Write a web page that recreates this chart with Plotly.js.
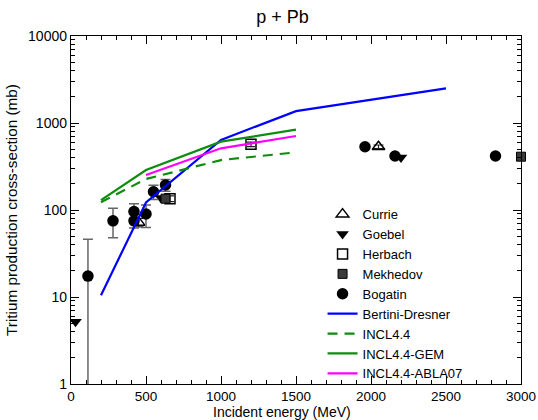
<!DOCTYPE html>
<html>
<head>
<meta charset="utf-8">
<script src="https://cdn.plot.ly/plotly-3.0.1.min.js"></script>
<style>
  html, body { margin: 0; padding: 0; background: #fff; }
  #chart { width: 538px; height: 420px; }
</style>
</head>
<body>
<div id="chart"></div>
<script>
// Tritium production cross-section for p + Pb (mb) vs incident proton energy (MeV)

// Model calculations
const bertiniE = [200, 500, 1000, 1500, 2500];
const bertiniS = [10.5, 122, 640, 1370, 2500];

const incl44E = [200, 500, 1000, 1500];
const incl44S = [123, 227, 375, 460];

const gemE = [200, 500, 1000, 1500];
const gemS = [130, 288, 610, 840];

const ablaE = [500, 1000, 1500];
const ablaS = [253, 512, 709];

// Measurements
const currieE = [450, 2050];
const currieS = [72, 534];
const currieErr = [8, 25];

const goebelE = [30, 600, 2200];
const goebelS = [5.2, 137, 400];

const herbachE = [660, 1200];
const herbachS = [135, 569];
const herbachErr = [10, 35];

const mekhedovE = [630, 3000];
const mekhedovS = [135, 410];

const bogatinE = [113, 280, 420, 420, 500, 550, 630, 1960, 2160, 2830];
const bogatinS = [17.4, 75, 96, 75, 90, 162, 194, 534, 418, 418];
const bogatinErrPlus = [28.6, 30, 22, 15, 24, 30, 30, 0, 0, 0];
const bogatinErrMinus = [17, 27, 20, 13, 27, 30, 30, 0, 0, 0];

const xTitle = 'Incident energy (MeV)';
const yTitle = 'Tritium production cross-section (mb)';

const GREEN = '#0d8c0d';

const traces = [
  {
    name: 'Currie', x: currieE, y: currieS, type: 'scatter', mode: 'markers',
    marker: { symbol: 'triangle-up-open', size: 11, color: '#000', line: { width: 1.5, color: '#000' } },
    error_y: { type: 'data', array: currieErr, color: '#222', thickness: 1.2, width: 5 }
  },
  {
    name: 'Goebel', x: goebelE, y: goebelS, type: 'scatter', mode: 'markers',
    marker: { symbol: 'triangle-down', size: 11, color: '#000' }
  },
  {
    name: 'Herbach', x: herbachE, y: herbachS, type: 'scatter', mode: 'markers',
    marker: { symbol: 'square-open', size: 10, color: '#000', line: { width: 1.5, color: '#000' } },
    error_y: { type: 'data', array: herbachErr, color: '#222', thickness: 1.2, width: 4 }
  },
  {
    name: 'Mekhedov', x: mekhedovE, y: mekhedovS, type: 'scatter', mode: 'markers',
    cliponaxis: false,
    marker: { symbol: 'square', size: 9, color: '#3a3a3a', line: { width: 1, color: '#000' } }
  },
  {
    name: 'Bogatin', x: bogatinE, y: bogatinS, type: 'scatter', mode: 'markers',
    marker: { symbol: 'circle', size: 11.5, color: '#000' },
    error_y: { type: 'data', symmetric: false, array: bogatinErrPlus, arrayminus: bogatinErrMinus,
               color: '#666', thickness: 1.5, width: 5 }
  },
  {
    name: 'Bertini-Dresner', x: bertiniE, y: bertiniS, type: 'scatter', mode: 'lines',
    line: { color: '#0000ff', width: 2.2 }
  },
  {
    name: 'INCL4.4', x: incl44E, y: incl44S, type: 'scatter', mode: 'lines',
    line: { color: GREEN, width: 2.2, dash: '10px,7px' }
  },
  {
    name: 'INCL4.4-GEM', x: gemE, y: gemS, type: 'scatter', mode: 'lines',
    line: { color: GREEN, width: 2.2 }
  },
  {
    name: 'INCL4.4-ABLA07', x: ablaE, y: ablaS, type: 'scatter', mode: 'lines',
    line: { color: '#ff00ff', width: 2.2 }
  }
];

const FONT = 'Liberation Sans, Arial, sans-serif';

const layout = {
  width: 538, height: 420,
  margin: { l: 71, r: 17, t: 36, b: 36 },
  paper_bgcolor: '#fff', plot_bgcolor: '#fff',
  font: { family: FONT, color: '#000', size: 14 },
  title: { text: 'p + Pb', font: { size: 18, family: FONT }, x: 0.525, xanchor: 'center', y: 0.975, yanchor: 'top' },
  showlegend: true,
  legend: {
    x: 0.559, xanchor: 'left', y: 0.531, yanchor: 'top',
    bgcolor: 'rgba(0,0,0,0)', borderwidth: 0,
    font: { size: 13, family: FONT },
    traceorder: 'normal'
  },
  // x-axis caption placed as paper text, centred under the left part of the frame
  annotations: [
    {
      text: xTitle, xref: 'paper', yref: 'paper', x: 0.469, y: -0.081,
      xanchor: 'center', yanchor: 'middle', showarrow: false,
      font: { size: 14, family: FONT, color: '#000' }
    }
  ],
  xaxis: {
    range: [0, 3000], tickvals: [0, 500, 1000, 1500, 2000, 2500, 3000],
    ticks: 'inside', ticklen: 8, tickwidth: 1, tickcolor: '#000',
    minor: { dtick: 100, ticks: 'inside', ticklen: 4, tickwidth: 1, tickcolor: '#000' },
    showline: true, linecolor: '#000', linewidth: 1.2, mirror: 'ticks',
    showgrid: false, zeroline: false,
    tickfont: { size: 13.5 }
  },
  yaxis: {
    type: 'log', range: [0, 4], dtick: 1,
    tickvals: [1, 10, 100, 1000, 10000], ticktext: ['1', '10', '100', '1000', '10000'],
    ticks: 'inside', ticklen: 8, tickwidth: 1, tickcolor: '#000',
    minor: { dtick: 'D1', ticks: 'inside', ticklen: 4, tickwidth: 1, tickcolor: '#000' },
    showline: true, linecolor: '#000', linewidth: 1.2, mirror: 'ticks',
    showgrid: false, zeroline: false,
    tickfont: { size: 14 },
    title: { text: yTitle, font: { size: 15.3 }, standoff: 6 }
  }
};

Plotly.newPlot('chart', traces, layout, { staticPlot: true, displayModeBar: false });
</script>
</body>
</html>
